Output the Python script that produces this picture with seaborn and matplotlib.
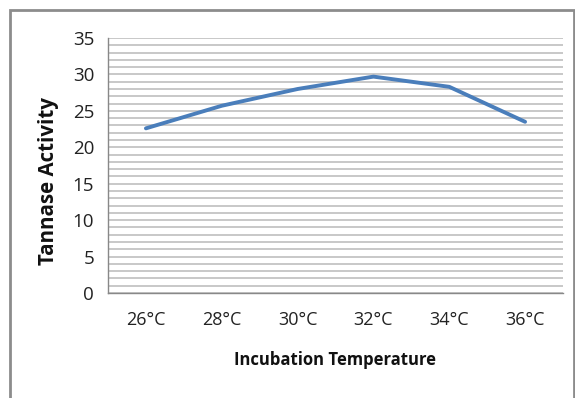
import matplotlib
matplotlib.use("Agg")
import matplotlib.pyplot as plt
import seaborn as sns
import pandas as pd
import numpy as np
from matplotlib.patches import Rectangle

categories = ["26°C", "28°C", "30°C", "32°C", "34°C", "36°C"]
activity = [22.6, 25.7, 28.0, 29.7, 28.3, 23.5]
y_ticks = [0, 5, 10, 15, 20, 25, 30, 35]

sns.set_theme(style="white")
plt.rcParams['font.family'] = ['Open Sans', 'DejaVu Sans']

df = pd.DataFrame({"pos": np.arange(len(categories)), "val": activity})

W, H = 575, 398
fig = plt.figure(figsize=(W/100, H/100), dpi=100)
ax = fig.add_axes([108/W, 1 - 293/H, (563-108)/W, (293-38)/H])

# minor gridlines every 1 unit
for v in range(0, 36):
    ax.axhline(v, color="#c4c4c4", lw=1.3, zorder=0)

sns.lineplot(data=df, x="pos", y="val", ax=ax, color="#4A7EBB", lw=2.8, zorder=3)

ax.set_xlim(-0.5, len(categories) - 0.5)
ax.set_ylim(0, 35)
ax.set_yticks(y_ticks)
ax.set_yticklabels([str(t) for t in y_ticks], fontsize=13.5, color="#222222")
ax.set_xticks(np.arange(len(categories)))
ax.set_xticklabels(categories, fontsize=13, color="#222222")
ax.set_xticks(np.arange(-0.5, len(categories)), minor=True)
ax.tick_params(axis="x", which="major", length=0, pad=13)
ax.tick_params(axis="x", which="minor", length=6, width=1, color="#888888", direction="out")
ax.tick_params(axis="y", which="major", length=5, width=1, color="#888888", direction="out", pad=5)

for s in ["top", "right"]:
    ax.spines[s].set_visible(False)
for s in ["left", "bottom"]:
    ax.spines[s].set_color("#888888")
    ax.spines[s].set_linewidth(1.0)

ax.set_xlabel("")
ax.set_ylabel("")
fig.text(335/W, 1 - 360/H, "Incubation Temperature", fontsize=12, fontweight="bold",
         ha="center", va="center", color="#111111")
fig.text(49/W, 1 - 181/H, "Tannase Activity", fontsize=14.8, fontweight="bold",
         ha="center", va="center", rotation=90, color="#111111")

fig.patches.append(Rectangle((10/W, -0.05), (574-10)/W, 1 + 0.05 - 10/H,
                             transform=fig.transFigure, fill=False,
                             edgecolor="#8c8c8c", lw=2.0, zorder=-1))

fig.savefig("out.png", dpi=100, facecolor="white")
